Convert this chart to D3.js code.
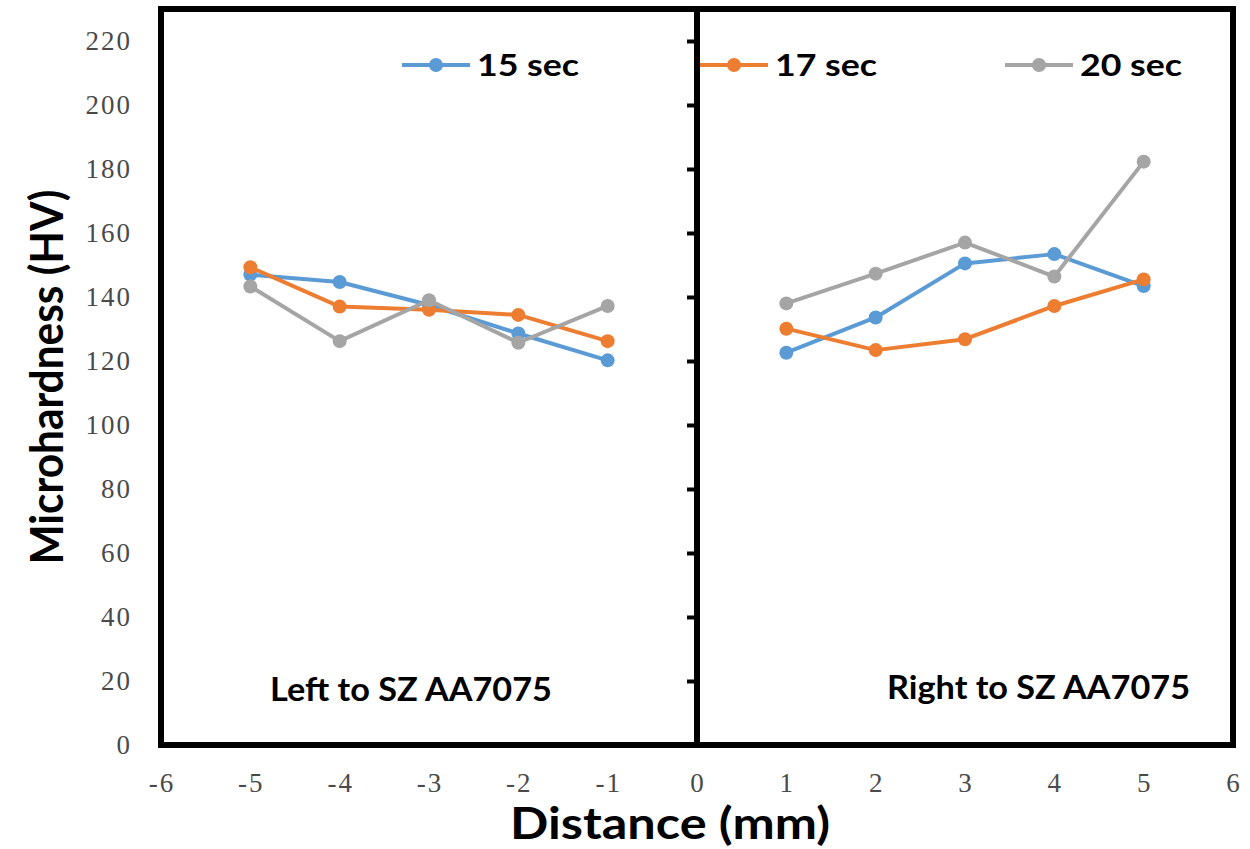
<!DOCTYPE html>
<html>
<head>
<meta charset="utf-8">
<script src="https://cdn.jsdelivr.net/npm/d3@7"></script>
<style>
  body { margin: 0; background: #fff; }
  .tick-lbl { font-family: "Liberation Serif", serif; fill: #4a4a4a; letter-spacing: 2px; }
  .bold { font-family: Lato, "Open Sans", sans-serif; font-weight: bold; fill: #000; }
</style>
</head>
<body>
<script>
'use strict';

// distances (mm) on each side of the stir zone
const leftDist = [-5, -4, -3, -2, -1];
const rightDist = [1, 2, 3, 4, 5];

// microhardness (HV)
const hv15Left = [147, 144.7, 137.5, 128.6, 120.2];
const hv15Right = [122.6, 133.6, 150.5, 153.4, 143.4];
const hv17Left = [149.3, 137, 136, 134.4, 126.2];
const hv17Right = [130.1, 123.4, 126.8, 137.2, 145.5];
const hv20Left = [143.3, 126.2, 139, 125.7, 137.2];
const hv20Right = [138, 147.3, 157, 146.4, 182.3];

const seriesNames = ["15 sec", "17 sec", "20 sec"];
const seriesColors = ["#5B9BD5", "#ED7D31", "#A5A5A5"];

const xTicks = [-6, -5, -4, -3, -2, -1, 0, 1, 2, 3, 4, 5, 6];
const yTicks = [0, 20, 40, 60, 80, 100, 120, 140, 160, 180, 200, 220];

const svg = d3.select('body').append('svg')
  .attr('width', 1250)
  .attr('height', 849);

// scales: frame runs from -6 to 6 and 0 to 230
let xScale = d3.scaleLinear().domain([-6, 6]).range([161, 1233]);
let yScale = d3.scaleLinear().domain([0, 230]).range([745, 9]);

// y tick labels sit to the left of the frame
svg.append('g').selectAll('text')
  .data(yTicks)
  .enter()
  .append('text')
  .attr('class', 'tick-lbl')
  .attr('x', 132)
  .attr('y', d => yScale(d))
  .attr('dy', '0.35em')
  .attr('text-anchor', 'end')
  .style('font-size', '27px')
  .text(d => d);

// x tick labels under the frame
svg.append('g').selectAll('text')
  .data(xTicks)
  .enter()
  .append('text')
  .attr('class', 'tick-lbl')
  .attr('x', d => xScale(d) + 1)
  .attr('y', 783)
  .attr('dy', '0.35em')
  .attr('text-anchor', 'middle')
  .style('font-size', '27px')
  .text(d => d);

// y axis at x = 0 with outside ticks, no labels
let yAxis = d3.axisLeft(yScale).tickValues(yTicks).tickSize(10).tickFormat('');
let yAxisG = svg.append('g')
  .attr('transform', 'translate(' + xScale(0) + ',0)')
  .call(yAxis);
yAxisG.select('.domain').remove();
yAxisG.selectAll('line').attr('stroke', '#000').attr('stroke-width', 4);

svg.append('line')
  .attr('x1', xScale(0)).attr('x2', xScale(0))
  .attr('y1', yScale(230)).attr('y2', yScale(0))
  .attr('stroke', '#000').attr('stroke-width', 6);

// plot frame
svg.append('rect')
  .attr('x', xScale(-6))
  .attr('y', yScale(230))
  .attr('width', xScale(6) - xScale(-6))
  .attr('height', yScale(0) - yScale(230))
  .attr('fill', 'none')
  .attr('stroke', '#000')
  .attr('stroke-width', 6);

// series lines, each side drawn separately
let line = d3.line()
  .x(d => xScale(d[0]))
  .y(d => yScale(d[1]));

let series = [
  [hv15Left, hv15Right],
  [hv17Left, hv17Right],
  [hv20Left, hv20Right]
];

series.forEach((s, i) => {
  let g = svg.append('g');
  let pts = [leftDist.map((x, j) => [x, s[0][j]]), rightDist.map((x, j) => [x, s[1][j]])];
  pts.forEach(p => {
    g.append('path')
      .attr('d', line(p))
      .attr('fill', 'none')
      .attr('stroke', seriesColors[i])
      .attr('stroke-width', 4)
      .attr('stroke-linejoin', 'round');
    g.selectAll(null)
      .data(p)
      .enter()
      .append('circle')
      .attr('cx', d => xScale(d[0]))
      .attr('cy', d => yScale(d[1]))
      .attr('r', 7)
      .attr('fill', seriesColors[i]);
  });
});

// legend
let legendX = [402, 700, 1005];
seriesNames.forEach((name, i) => {
  let g = svg.append('g').attr('transform', 'translate(' + legendX[i] + ',65)');
  g.append('line')
    .attr('x1', 0).attr('x2', 68)
    .attr('y1', 0).attr('y2', 0)
    .attr('stroke', seriesColors[i])
    .attr('stroke-width', 4);
  g.append('circle')
    .attr('cx', 34).attr('cy', 0).attr('r', 7)
    .attr('fill', seriesColors[i]);
  g.append('text')
    .attr('class', 'bold')
    .attr('x', 75)
    .attr('dy', '0.36em')
    .attr('textLength', 102)
    .attr('lengthAdjust', 'spacingAndGlyphs')
    .style('font-size', '30px')
    .text(name);
});

// side annotations
svg.append('text')
  .attr('class', 'bold')
  .attr('x', 270).attr('y', 701)
  .attr('textLength', 282)
  .attr('lengthAdjust', 'spacingAndGlyphs')
  .style('font-size', '33px')
  .text('Left to SZ AA7075');

svg.append('text')
  .attr('class', 'bold')
  .attr('x', 887).attr('y', 699)
  .attr('textLength', 303)
  .attr('lengthAdjust', 'spacingAndGlyphs')
  .style('font-size', '33px')
  .text('Right to SZ AA7075');

// axis titles
svg.append('text')
  .attr('class', 'bold')
  .attr('transform', 'translate(63, 377)rotate(-90)')
  .attr('text-anchor', 'middle')
  .attr('textLength', 375)
  .attr('lengthAdjust', 'spacingAndGlyphs')
  .style('font-size', '45px')
  .text('Microhardness (HV)');

svg.append('text')
  .attr('class', 'bold')
  .attr('x', 670).attr('y', 839)
  .attr('text-anchor', 'middle')
  .attr('textLength', 320)
  .attr('lengthAdjust', 'spacingAndGlyphs')
  .style('font-size', '44px')
  .text('Distance (mm)');
</script>
</body>
</html>
